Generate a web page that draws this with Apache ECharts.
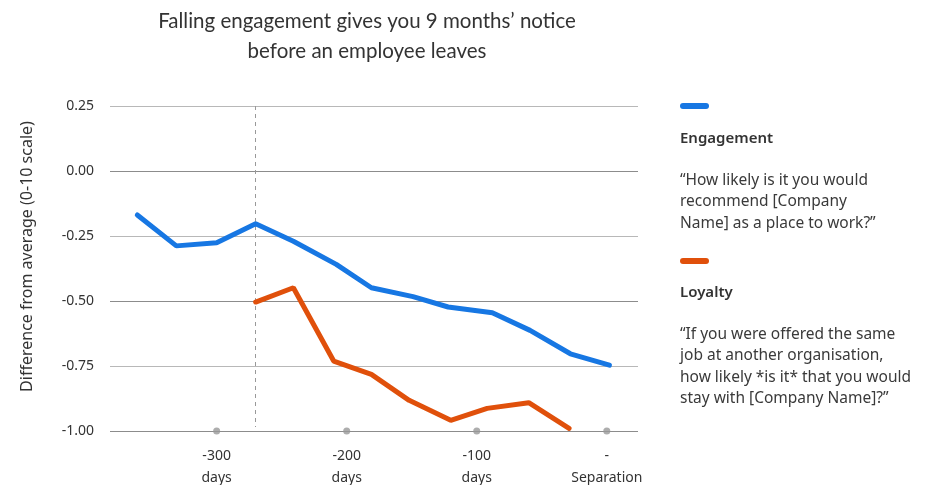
<!DOCTYPE html>
<html><head><meta charset="utf-8">
<script src="https://cdn.jsdelivr.net/npm/echarts@6/dist/echarts.min.js"></script>
<style>html,body{margin:0;padding:0;background:#fff}#c{width:928px;height:485px}</style>
</head><body><div id="c"></div>
<script>
// Engagement: [days before separation, difference from average]
const engagementDays = [-361, -331, -300, -270, -241, -208, -181, -149, -122, -88, -59, -28, 2];
const engagementVals = [-0.169, -0.288, -0.276, -0.203, -0.27, -0.359, -0.449, -0.483, -0.523, -0.545, -0.613, -0.703, -0.747];
const loyaltyDays = [-270, -241, -210, -181, -152, -120, -92, -60, -29];
const loyaltyVals = [-0.504, -0.449, -0.731, -0.782, -0.882, -0.959, -0.913, -0.891, -0.99];
const xTickValues = [-300, -200, -100, 0];
const xTickLabels = ['-300\ndays', '-200\ndays', '-100\ndays', '-\nSeparation'];
const noticeDay = -270;
const titleText = 'Falling engagement gives you 9 months\u2019 notice\nbefore an employee leaves';
const yName = 'Difference from average (0-10 scale)';

const BLUE = '#1777e3', ORANGE = '#e0500b';
const FONT = 'Noto Sans';

const chart = echarts.init(document.getElementById('c'));
chart.setOption({
  animation: false,
  title: {
    text: titleText, left: 362, top: 1, textAlign: 'center',
    textStyle: {fontFamily: 'Lato', fontSize: 20.5, fontWeight: 'normal', color: '#333', lineHeight: 30}
  },
  grid: {left: 110, right: 290, top: 106, bottom: 54, outerBoundsMode: 'none'},
  xAxis: {
    type: 'value', min: -382, max: 24,
    axisLine: {show: false}, axisTick: {show: false}, splitLine: {show: false},
    axisLabel: {
      customValues: xTickValues,
      formatter: v => xTickLabels[xTickValues.indexOf(v)],
      fontFamily: FONT, fontSize: 14, color: '#333', lineHeight: 22, margin: 14
    }
  },
  yAxis: {
    type: 'value', min: -1, max: 0.25, interval: 0.25,
    axisLine: {show: false}, axisTick: {show: false},
    axisLabel: {formatter: v => v.toFixed(2), fontFamily: FONT, fontSize: 14, color: '#333', margin: 16},
    splitLine: {lineStyle: {color: ['#8c8c8c', '#b8b8b8'], width: 1}}
  },
  series: [
    {
      name: 'Engagement', type: 'line', data: engagementDays.map((d, i) => [d, engagementVals[i]]),
      symbol: 'none', lineStyle: {color: BLUE, width: 5, cap: 'round'}, z: 5,
      markLine: {
        silent: true, symbol: 'none', label: {show: false},
        lineStyle: {color: '#999', type: [4, 4], width: 1},
        data: [[{xAxis: noticeDay, yAxis: 0.25}, {xAxis: noticeDay, yAxis: -0.985}]]
      }
    },
    {
      name: 'Loyalty', type: 'line', data: loyaltyDays.map((d, i) => [d, loyaltyVals[i]]),
      symbol: 'none', lineStyle: {color: ORANGE, width: 5, cap: 'round'}, z: 5
    },
    {
      name: 'ticks', type: 'scatter', data: xTickValues.map(v => [v, -1]),
      symbolSize: 7, itemStyle: {color: '#999'}, z: 3, silent: true
    }
  ],
  graphic: [
    {type: 'text', x: 27, y: 256.5, rotation: Math.PI / 2,
     style: {text: yName, font: '16px "Noto Sans"', fill: '#333', align: 'center', verticalAlign: 'middle'}},
    {type: 'line', shape: {x1: 683, y1: 106, x2: 706, y2: 106}, style: {stroke: BLUE, lineWidth: 6, lineCap: 'round'}},
    {type: 'text', left: 680, top: 131, style: {text: 'Engagement', font: '600 15px "Noto Sans"', fill: '#333'}},
    {type: 'text', left: 680, top: 170, style: {text: '\u201cHow likely is it you would\nrecommend [Company\nName] as a place to work?\u201d', font: '15.5px "Noto Sans"', fill: '#3a3a3a', lineHeight: 21.3}},
    {type: 'line', shape: {x1: 683, y1: 261, x2: 706, y2: 261}, style: {stroke: ORANGE, lineWidth: 6, lineCap: 'round'}},
    {type: 'text', left: 680, top: 285, style: {text: 'Loyalty', font: '600 15px "Noto Sans"', fill: '#333'}},
    {type: 'text', left: 680, top: 324, style: {text: '\u201cIf you were offered the same\njob at another organisation,\nhow likely *is it* that you would\nstay with [Company Name]?\u201d', font: '15.5px "Noto Sans"', fill: '#3a3a3a', lineHeight: 21.3}}
  ]
});
</script></body></html>
